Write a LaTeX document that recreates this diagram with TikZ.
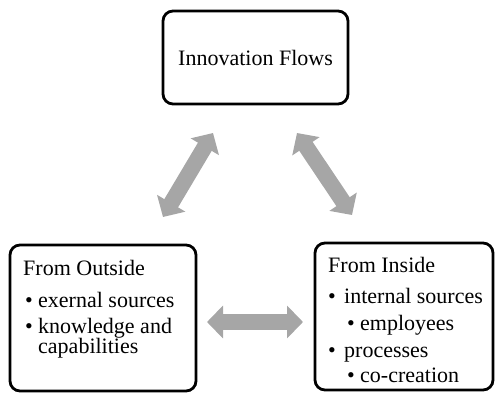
\documentclass[tikz,border=0pt]{standalone}
\usepackage{fontspec}
\setmainfont{Liberation Serif}
\usetikzlibrary{arrows.meta}
\definecolor{arrowgray}{RGB}{166,166,166}
\tikzset{
  box/.style={draw=black, line width=2.8pt, rounded corners=10pt, fill=white},
  txt/.style={anchor=base west, inner sep=0pt, font=\fontsize{22}{24}\selectfont},
  blockarrow/.style={draw=arrowgray, line width=16pt,
    {Triangle[length=16pt,width=32pt]}-{Triangle[length=16pt,width=32pt]}},
}
\begin{document}
\begin{tikzpicture}[x=1pt,y=-1pt]
\useasboundingbox (0,0) rectangle (495,394);
% boxes
\draw[box] (163,11) rectangle (348,104);
\node[inner sep=0pt, font=\fontsize{22}{24}\selectfont] (top) at (255.5,57.5) {Innovation Flows};
\draw[box] (10,245) rectangle (196,391);
\draw[box] (315,243) rectangle (493,390);
% left text
\node[txt] (lt) at (23,275) {From Outside};
\node[txt] (lb1) at (25,307) {•};
\node[txt] (l1) at (38,307) {exernal sources};
\node[txt] (lb2) at (25,333) {•};
\node[txt] (l2) at (38,333) {knowledge and};
\node[txt] (l3) at (38,353) {capabilities};
% right text
\node[txt] (rt) at (328,272) {From Inside};
\node[txt] (rb1) at (328,303) {•};
\node[txt] (r1) at (344,303) {internal sources};
\node[txt] (rb2) at (347,330) {•};
\node[txt] (r2) at (360,330) {employees};
\node[txt] (rb3) at (328,357) {•};
\node[txt] (r3) at (344,357) {processes};
\node[txt] (rb4) at (347,382) {•};
\node[txt] (r4) at (360,382) {co-creation};
% arrow end points
\coordinate (a1s) at (163,217);
\coordinate (a1e) at (213,133);
\coordinate (a2s) at (297,133);
\coordinate (a2e) at (352,215);
\coordinate (a3s) at (207,322);
\coordinate (a3e) at (303,322);
\draw[blockarrow] (a1s) -- (a1e);
\draw[blockarrow] (a2s) -- (a2e);
\draw[blockarrow] (a3s) -- (a3e);
\end{tikzpicture}
\end{document}
